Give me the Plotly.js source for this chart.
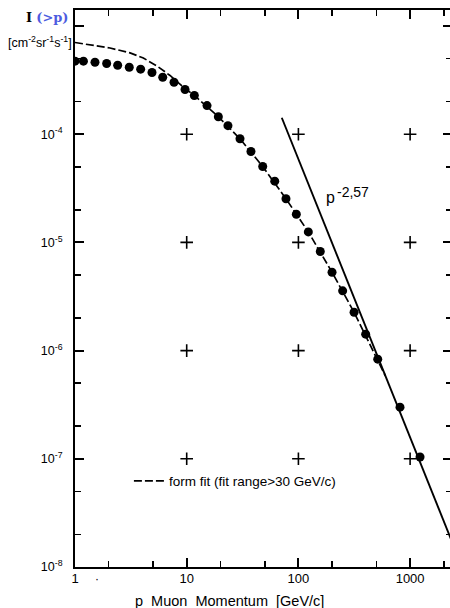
<!DOCTYPE html>
<html>
<head>
<meta charset="utf-8">
<script src="https://cdn.plot.ly/plotly-3.0.1.min.js"></script>
<style>
html,body{margin:0;padding:0;background:#fff;overflow:hidden;width:450px;height:608px;}
#chart{width:452px;height:608px;}
</style>
</head>
<body>
<div id="chart"></div>
<script>
// Measured muon integral intensity (dots)
const dataP = [1.0, 1.19, 1.51, 1.92, 2.41, 3.06, 3.87, 4.89, 6.10, 7.70, 9.66, 11.7, 15.2, 19.2, 23.4, 30.0, 37.6, 47.9, 61.4, 77.4, 95.8, 122.7, 157, 200, 249, 315, 400, 513, 812, 1227];
const dataI = [4.73e-4, 4.73e-4, 4.63e-4, 4.50e-4, 4.34e-4, 4.16e-4, 3.99e-4, 3.72e-4, 3.36e-4, 3.02e-4, 2.59e-4, 2.28e-4, 1.84e-4, 1.45e-4, 1.20e-4, 9.07e-5, 6.92e-5, 5.03e-5, 3.68e-5, 2.53e-5, 1.82e-5, 1.25e-5, 8.24e-6, 5.30e-6, 3.57e-6, 2.26e-6, 1.42e-6, 8.33e-7, 3.00e-7, 1.04e-7];

// Form fit (dashed curve)
const fitP = [1.0, 1.56, 2.06, 3.11, 4.09, 5.42, 7.09, 9.66, 11.7, 19.2, 30.0, 47.9, 77.4, 122.7, 200, 315, 513, 600];
const fitI = [7.04e-4, 6.51e-4, 6.26e-4, 5.65e-4, 5.06e-4, 4.27e-4, 3.49e-4, 2.65e-4, 2.28e-4, 1.45e-4, 9.07e-5, 5.03e-5, 2.53e-5, 1.25e-5, 5.30e-6, 2.26e-6, 8.33e-7, 5.85e-7];

// Power law p^-2.57 (solid straight line)
const powP = [71, 2400];
const powI = [1.42e-4, 1.66e-8];

// "+" grid marks
const plusP = [10, 100, 1000, 10, 100, 1000, 10, 100, 1000, 10, 100, 1000];
const plusI = [1e-4, 1e-4, 1e-4, 1e-5, 1e-5, 1e-5, 1e-6, 1e-6, 1e-6, 1e-7, 1e-7, 1e-7];

// Axis ticks
const xTickVals = [1, 10, 100, 1000];
const xTickText = ["1", "10", "100", "1000"];
const xMinorVals = [2, 5, 20, 50, 200, 500, 2000];
const yTickVals = [1e-8, 1e-7, 1e-6, 1e-5, 1e-4, 1e-3];
const yTickText = ["10<sup>-8</sup>", "10<sup>-7</sup>", "10<sup>-6</sup>", "10<sup>-5</sup>", "10<sup>-4</sup>", ""];
const yMinorVals = [2e-8, 5e-8, 2e-7, 5e-7, 2e-6, 5e-6, 2e-5, 5e-5, 2e-4, 5e-4];

const legendLabel = "form fit (fit range&gt;30 GeV/c)";

const XR = [0, 3.375];
const YR = [-8, -2.852];

function carrier(xa, ya) {
  return {x: plusP, y: plusI, mode: 'markers', type: 'scatter', showlegend: false, xaxis: xa, yaxis: ya,
          marker: {size: 1, opacity: 0}, hoverinfo: 'skip'};
}

const traces = [
  {x: plusP, y: plusI, mode: 'markers', type: 'scatter', showlegend: false,
   marker: {symbol: 'cross-thin', size: 9, color: '#000', line: {color: '#000', width: 1.6}}},
  {x: fitP, y: fitI, mode: 'lines', type: 'scatter', name: legendLabel, showlegend: true,
   line: {color: '#000', width: 1.7, dash: '8px,3px'}},
  {x: powP, y: powI, mode: 'lines', type: 'scatter', showlegend: false,
   line: {color: '#000', width: 1.9}},
  {x: dataP, y: dataI, mode: 'markers', type: 'scatter', showlegend: false,
   marker: {symbol: 'circle', size: 9, color: '#000'}},
  carrier('x2', 'y2'),
  carrier('x3', 'y3')
];

const mainAx = {
  type: 'log', showgrid: false, zeroline: false,
  showline: true, linecolor: '#000', linewidth: 2, mirror: true,
  ticks: '', tickmode: 'array'
};
const tickAx = {
  type: 'log', showgrid: false, zeroline: false, showline: false, mirror: 'ticks',
  ticks: 'inside', tickcolor: '#000', tickmode: 'array', showticklabels: false
};

const layout = {
  width: 452, height: 608,
  margin: {l: 75, r: 0, t: 10, b: 41},
  paper_bgcolor: '#fff', plot_bgcolor: '#fff',
  font: {family: 'Liberation Sans, Arial, sans-serif', color: '#000', size: 12},
  xaxis: Object.assign({}, mainAx, {
    range: XR, tickvals: xTickVals, ticktext: xTickText,
    tickfont: {size: 13, family: 'Liberation Sans, Arial, sans-serif'},
    ticklabelstandoff: -2
  }),
  yaxis: Object.assign({}, mainAx, {
    range: YR, tickvals: yTickVals, ticktext: yTickText,
    tickfont: {size: 12.5, family: 'Liberation Sans, Arial, sans-serif'},
    ticklabelstandoff: 8
  }),
  // major tick marks (inside, on all four sides)
  xaxis2: Object.assign({}, tickAx, {range: XR, tickvals: xTickVals, ticklen: 9, tickwidth: 2, overlaying: 'x', anchor: 'y2'}),
  yaxis2: Object.assign({}, tickAx, {range: YR, tickvals: yTickVals, ticklen: 9, tickwidth: 2, overlaying: 'y', anchor: 'x2'}),
  // minor tick marks
  xaxis3: Object.assign({}, tickAx, {range: XR, tickvals: xMinorVals, ticklen: 6, tickwidth: 1.6, overlaying: 'x', anchor: 'y3'}),
  yaxis3: Object.assign({}, tickAx, {range: YR, tickvals: yMinorVals, ticklen: 6, tickwidth: 1.6, overlaying: 'y', anchor: 'x3'}),
  showlegend: true,
  legend: {x: 0.143, y: 0.182, xanchor: 'left', yanchor: 'top', bgcolor: 'rgba(0,0,0,0)',
           font: {size: 13.5, family: 'Liberation Sans, Arial, sans-serif'}, borderwidth: 0},
  annotations: [
    {xref: 'paper', yref: 'paper', x: -0.074, y: 0.986, xanchor: 'center', yanchor: 'middle', showarrow: false,
     text: '<b>I</b> <b><span style="color:#4d5ce0">(&gt;p)</span></b>',
     font: {family: 'DejaVu Serif, Liberation Serif, serif', size: 13, color: '#000'}},
    {xref: 'paper', yref: 'paper', x: -0.093, y: 0.9425, xanchor: 'center', yanchor: 'middle', showarrow: false,
     text: '[cm<sup>-2</sup>sr<sup>-1</sup>s<sup>-1</sup>]',
     font: {family: 'Liberation Sans, Arial, sans-serif', size: 12.5, color: '#000'}},
    {xref: 'paper', yref: 'paper', x: 0.661, y: 0.664, xanchor: 'left', yanchor: 'middle', showarrow: false,
     text: 'p', font: {family: 'Liberation Sans, Arial, sans-serif', size: 16, color: '#000'}},
    {xref: 'paper', yref: 'paper', x: 0.69, y: 0.674, xanchor: 'left', yanchor: 'middle', showarrow: false,
     text: '-2,57', font: {family: 'Liberation Sans, Arial, sans-serif', size: 14, color: '#000'}},
    {xref: 'paper', yref: 'paper', x: 0.4085, y: -0.0605, xanchor: 'center', yanchor: 'middle', showarrow: false,
     text: 'p  Muon  Momentum  [GeV/c]',
     font: {family: 'Liberation Sans, Arial, sans-serif', size: 14.5, color: '#000'}},
    {xref: 'paper', yref: 'paper', x: 0.058, y: -0.022, xanchor: 'center', yanchor: 'middle', showarrow: false,
     text: '·', font: {family: 'Liberation Sans, Arial, sans-serif', size: 12, color: '#000'}}
  ]
};

Plotly.newPlot('chart', traces, layout, {displayModeBar: false, staticPlot: true});
</script>
</body>
</html>
